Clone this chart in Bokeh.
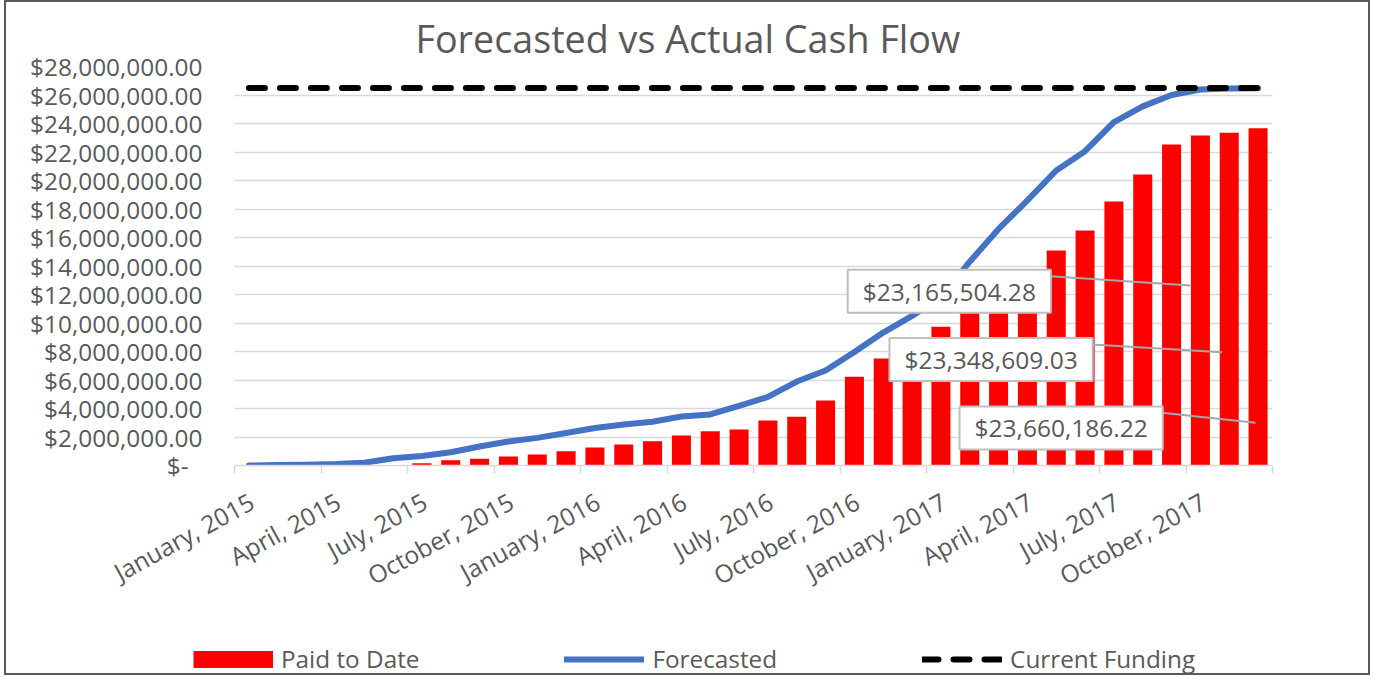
from bokeh.plotting import figure
from bokeh.models import (FixedTicker, CustomJSTickFormatter, Label, Legend,
                          LegendItem, Range1d, ColumnDataSource)
from bokeh.embed import file_html
from bokeh.resources import INLINE

# ---------------- data ----------------
x_tick_labels = ["January, 2015", "April, 2015", "July, 2015", "October, 2015",
                 "January, 2016", "April, 2016", "July, 2016", "October, 2016",
                 "January, 2017", "April, 2017", "July, 2017", "October, 2017"]

paid_to_date = [0, 0, 0, 0, 0, 0,
                150000, 370000, 470000, 630000, 770000, 1000000,
                1270000, 1470000, 1710000, 2100000, 2410000, 2530000,
                3160000, 3420000, 4560000, 6220000, 7510000, 8400000,
                9730000, 11100000, 12300000, 13400000, 15090000, 16500000,
                18530000, 20420000, 22530000, 23165504.28, 23348609.03, 23660186.22]

forecasted = [0, 30000, 60000, 100000, 190000, 510000,
              670000, 930000, 1330000, 1680000, 1940000, 2280000,
              2630000, 2880000, 3070000, 3440000, 3580000, 4180000,
              4810000, 5890000, 6670000, 7960000, 9330000, 10500000,
              11800000, 14300000, 16600000, 18600000, 20700000, 22060000,
              24100000, 25200000, 26000000, 26390000, 26460000, 26480000]

current_funding = [26500000] * 36

y_ticks = [0, 2000000, 4000000, 6000000, 8000000, 10000000, 12000000, 14000000,
           16000000, 18000000, 20000000, 22000000, 24000000, 26000000, 28000000]

callout_bars = [33, 34, 35]
callout_values = [23165504.28, 23348609.03, 23660186.22]

# ---------------- layout constants ----------------
FONT = "Open Sans"
TXT = "#595959"
GRID = "#D9D9D9"
EDGE = "2px solid #595959"
W = 1366

idx = list(range(len(paid_to_date)))
src = ColumnDataSource(dict(x=idx, paid=paid_to_date, fc=forecasted, cf=current_funding))

p = figure(width=W, height=608, output_backend="svg", toolbar_location=None,
           x_range=Range1d(-0.5, 35.5), y_range=Range1d(0, 28000000),
           min_border_left=228, min_border_right=100, min_border_top=64,
           min_border_bottom=145)
p.outline_line_color = None
p.background_fill_color = "white"
p.border_fill_color = "white"
p.styles = {"border-left": EDGE, "border-right": EDGE, "border-top": EDGE,
            "margin-left": "4px"}

p.title.text = "Forecasted vs Actual Cash Flow"
p.title.align = "left"
p.title.offset = 181
p.title.standoff = 5
p.title.text_font = FONT
p.title.text_font_size = "37.7px"
p.title.text_font_style = "normal"
p.title.text_color = TXT

bar_style = dict(fill_color="#FF0000", line_color=None)
fc_style = dict(line_width=6, line_color="#4472C4", line_cap="round", line_join="round")
cf_style = dict(line_width=6, line_color="black", line_dash="16 15", line_cap="round")

bars = p.vbar(x="x", top="paid", width=0.66, source=src, **bar_style)
fline = p.line(x="x", y="fc", source=src, **fc_style)
dline = p.line(x="x", y="cf", source=src, **cf_style)

# axes
label_pos = [3 * i + 0.1 for i in range(len(x_tick_labels))]
minor = [3 * i - 0.5 for i in range(len(x_tick_labels) + 1)]
p.xaxis.ticker = FixedTicker(ticks=label_pos, minor_ticks=minor)
p.xaxis.major_label_overrides = {t: lab for t, lab in zip(label_pos, x_tick_labels)}
p.xaxis.major_label_orientation = 0.5
p.xaxis.major_label_text_font = FONT
p.xaxis.major_label_text_font_size = "24.5px"
p.xaxis.major_label_text_color = TXT
p.xaxis.major_label_standoff = 26
p.xaxis.axis_line_color = GRID
p.xaxis.axis_line_width = 1.5
p.xaxis.major_tick_in = 0
p.xaxis.major_tick_out = 0
p.xaxis.major_tick_line_color = None
p.xaxis.minor_tick_in = 0
p.xaxis.minor_tick_out = 8
p.xaxis.minor_tick_line_color = GRID
p.xaxis.minor_tick_line_width = 1.5

p.yaxis.ticker = FixedTicker(ticks=y_ticks)
p.yaxis.formatter = CustomJSTickFormatter(code="""
    if (tick == 0) { return '$-\u2007'; }
    return '$' + tick.toLocaleString('en-US', {minimumFractionDigits: 2, maximumFractionDigits: 2});
""")
p.yaxis.axis_line_color = None
p.yaxis.major_tick_line_color = None
p.yaxis.minor_tick_line_color = None
p.yaxis.major_tick_in = 0
p.yaxis.major_tick_out = 0
p.yaxis.major_label_standoff = 32
p.yaxis.major_label_text_font = FONT
p.yaxis.major_label_text_font_size = "24.4px"
p.yaxis.major_label_text_color = TXT

p.xgrid.visible = False
p.ygrid.ticker = FixedTicker(ticks=y_ticks)
p.ygrid.grid_line_color = GRID
p.ygrid.grid_line_width = 1.5

# callout leaders and labels (positions are layout)
leader_start = [(27.81, 13280000), (29.24, 8490000), (31.67, 3700000)]
leader_end = [(32.65, 12630000), (33.75, 7950000), (34.91, 3000000)]
p.segment(x0=[s[0] for s in leader_start], y0=[s[1] for s in leader_start],
          x1=[e[0] for e in leader_end], y1=[e[1] for e in leader_end],
          line_color="#A6A6A6", line_width=2)
label_centers = [(24.29, 12230000), (25.74, 7440000), (28.17, 2640000)]
for (cx, cy), v in zip(label_centers, callout_values):
    p.add_layout(Label(x=cx, y=cy, text=f"${v:,.2f}", text_align="center",
                       text_baseline="middle", text_font=FONT,
                       text_font_size="24.5px", text_color=TXT,
                       background_fill_color="white",
                       border_line_color="#BFBFBF", border_line_width=2,
                       padding=(15, 15, 5, 5)))

# legend strip (separate root so its frame spans the full width)
LH = 67
lg = figure(width=W, height=LH, output_backend="svg", toolbar_location=None,
            x_range=Range1d(0, W), y_range=Range1d(0, LH),
            x_axis_type=None, y_axis_type=None, min_border=0)
lg.outline_line_color = None
lg.grid.visible = False
lg.styles = {"border-left": EDGE, "border-right": EDGE, "border-bottom": EDGE,
             "margin-left": "4px"}
# legend swatches: a thick butt-capped line gives a full-size red block
lg_bar = lg.line(x=[-100, -90], y=[-100, -100], line_color="#FF0000",
                 line_width=17, line_cap="butt")
lg_fc = lg.line(x=[-100, -90], y=[-100, -100], **fc_style)
lg_cf = lg.line(x=[-100, -90], y=[-100, -100], **cf_style)
legend = Legend(items=[LegendItem(label="Paid to Date", renderers=[lg_bar]),
                       LegendItem(label="Forecasted", renderers=[lg_fc]),
                       LegendItem(label="Current Funding", renderers=[lg_cf])],
                orientation="horizontal", location=(187, 0),
                glyph_width=80, glyph_height=18, label_standoff=8, spacing=145,
                padding=0, margin=0, border_line_color=None,
                background_fill_alpha=0, label_text_font=FONT,
                label_text_font_size="24.3px", label_text_color=TXT)
lg.add_layout(legend)

open("out.html", "w").write(file_html([p, lg], INLINE))
